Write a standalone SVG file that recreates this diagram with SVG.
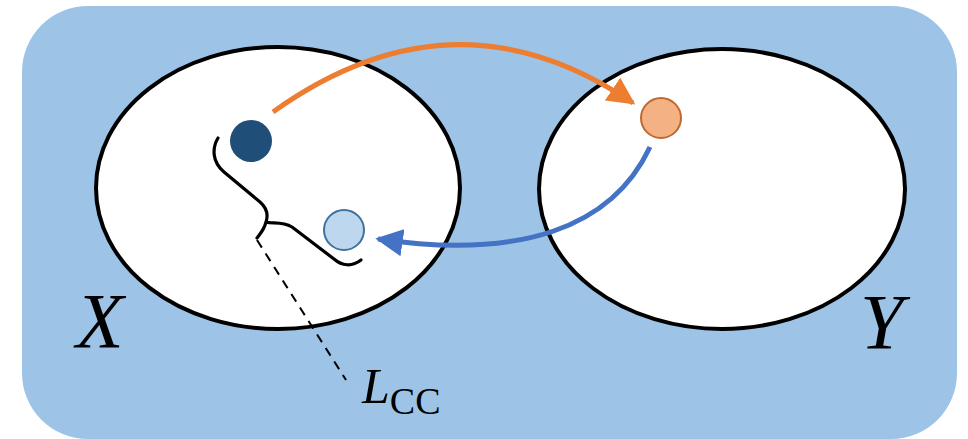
<svg xmlns="http://www.w3.org/2000/svg" width="968" height="439" viewBox="0 0 968 439">
  <style>
    .set { fill: #ffffff; stroke: #000000; stroke-width: 4; }
    .label { font-family: "Liberation Serif", "DejaVu Serif", serif; font-style: italic; fill: #000000; }
    .sub { font-family: "Liberation Serif", "DejaVu Serif", serif; font-style: normal; }
    .brace { fill: none; stroke: #000000; stroke-width: 3.2; stroke-linecap: round; stroke-linejoin: round; }
    .dash { fill: none; stroke: #000000; stroke-width: 2; stroke-dasharray: 9 7; }
  </style>
  <defs>
    <marker id="headOrange" viewBox="0 0 10 10" refX="9" refY="5" markerWidth="5.5" markerHeight="5.5" markerUnits="strokeWidth" orient="auto">
      <path d="M0,0 L10,5 L0,10 Z" fill="#ed7d31"/>
    </marker>
    <marker id="headBlue" viewBox="0 0 10 10" refX="9" refY="5" markerWidth="5.5" markerHeight="5.5" markerUnits="strokeWidth" orient="auto">
      <path d="M0,0 L10,5 L0,10 Z" fill="#4472c4"/>
    </marker>
  </defs>

  <!-- background panel -->
  <rect x="22" y="6" width="935" height="433" rx="66" ry="66" fill="#9dc3e6"/>

  <g id="setX">
    <ellipse class="set" cx="278" cy="188" rx="182" ry="141"/>
    <text class="label" x="76" y="347" font-size="78">X</text>
  </g>

  <g id="setY">
    <ellipse class="set" cx="722" cy="189" rx="183" ry="140"/>
    <text class="label" x="860" y="348" font-size="78">Y</text>
  </g>

  <g id="pointX">
    <circle cx="251" cy="141" r="21" fill="#1f4e79"/>
  </g>

  <g id="pointY">
    <circle cx="661" cy="118" r="20" fill="#f4b183" stroke="#c0692f" stroke-width="2"/>
  </g>

  <g id="pointBack">
    <circle cx="344" cy="230" r="20" fill="#bdd7ee" stroke="#41719c" stroke-width="2"/>
  </g>

  <g id="connectors">
    <path d="M273,112 Q455,-18 633,103" fill="none" stroke="#ed7d31" stroke-width="5" marker-end="url(#headOrange)"/>
    <path d="M650,147 C612,228 520,260 378,239" fill="none" stroke="#4472c4" stroke-width="5" marker-end="url(#headBlue)"/>
  </g>

  <g id="cycleLength">
    <path class="brace" d="M218,138 C212,148 212,162 224,172 L260,202 C268,209 268,216 266,222 C264,230 260,234 257,238 M266,222 C272,224 282,221 292,227 L334,259 C342,266 352,267 361,260"/>
    <path class="dash" d="M257,240 L346,380"/>
    <text class="label" x="362" y="403" font-size="50">L<tspan class="sub" font-size="38" dy="11">CC</tspan></text>
  </g>
</svg>
